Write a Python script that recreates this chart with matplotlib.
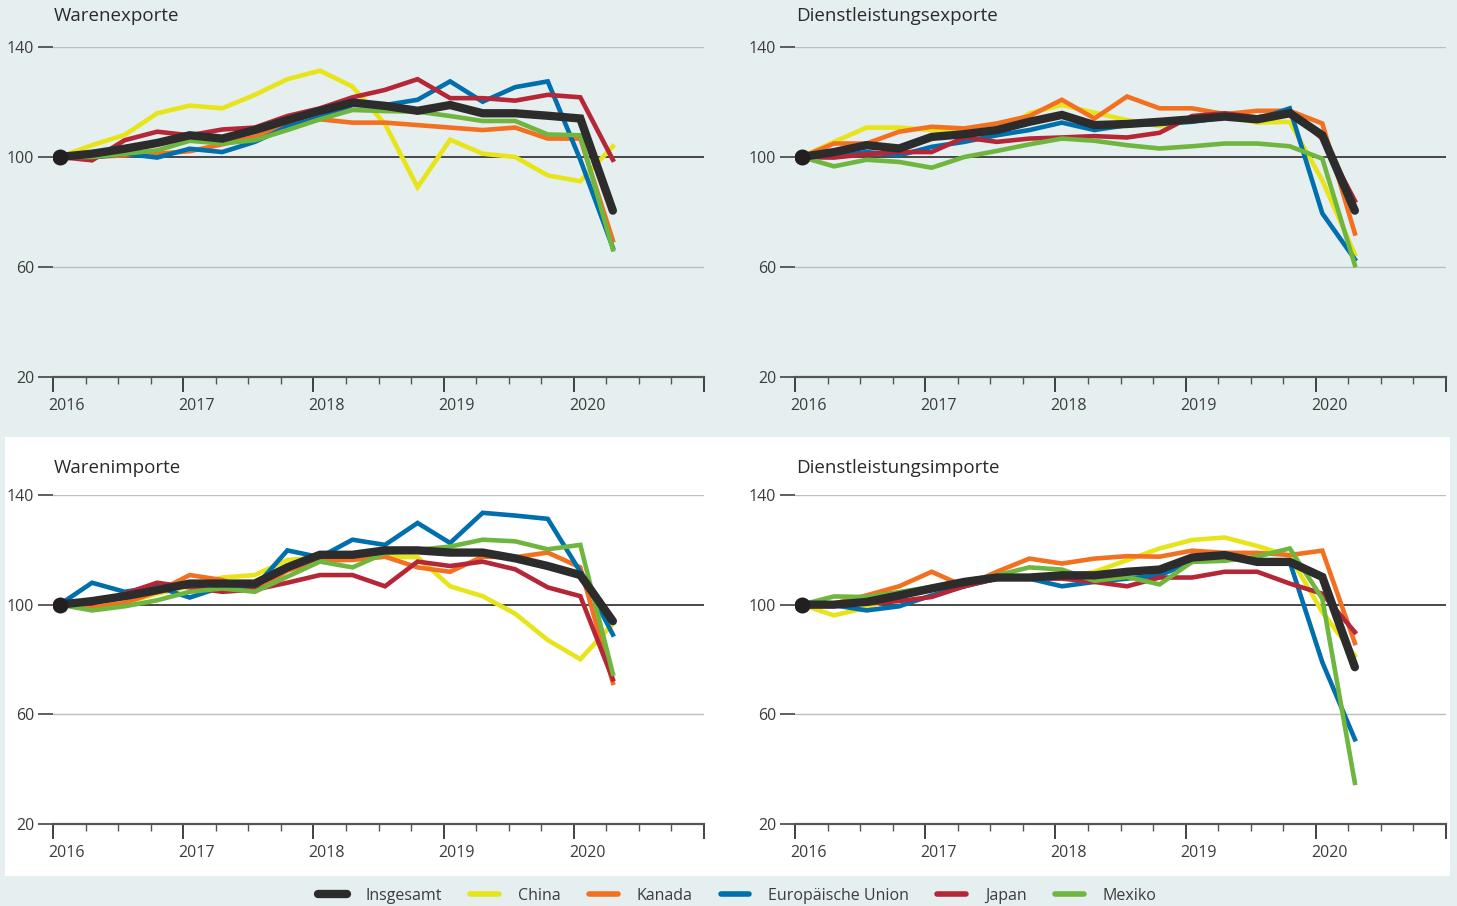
import matplotlib
matplotlib.use("Agg")
import matplotlib.pyplot as plt
from matplotlib.lines import Line2D
from matplotlib.patches import Rectangle
import matplotlib.transforms as mtransforms
import numpy as np

# ---------------- data (index, 2016 Q1 = 100) ----------------
quarters = ["2016Q1", "2016Q2", "2016Q3", "2016Q4", "2017Q1", "2017Q2", "2017Q3", "2017Q4",
            "2018Q1", "2018Q2", "2018Q3", "2018Q4", "2019Q1", "2019Q2", "2019Q3", "2019Q4",
            "2020Q1", "2020Q2"]
year_ticks = [2016, 2017, 2018, 2019, 2020, 2021]
year_labels = ["2016", "2017", "2018", "2019", "2020", ""]
y_ticks = [20, 60, 100, 140]

series_names = ["China", "Kanada", "Europäische Union", "Japan", "Mexiko", "Insgesamt"]
series_colors = ["#e8e41a", "#f37021", "#006fad", "#b52637", "#6fb63f", "#2d2c2c"]

# Warenexporte
wex_china = [100, 104.3, 108, 115.9, 118.7, 117.7, 122.6, 128.3, 131.4, 125.6, 112, 89, 106.3, 101.2, 100, 93.3, 91.2, 103.9]
wex_kanada = [100, 100, 100.6, 101.2, 102.1, 104.6, 107.3, 111.2, 113.7, 112.5, 112.5, 111.6, 110.7, 109.8, 110.7, 106.7, 106.7, 69.7]
wex_eu = [100, 99.8, 101.2, 99.8, 103, 101.8, 105.5, 111, 114.4, 118.9, 118.9, 120.8, 127.5, 120.1, 125.4, 127.5, 99, 67]
wex_japan = [100, 98.8, 106.1, 109.2, 107.9, 110, 110.7, 114.9, 117.7, 121.7, 124.4, 128.3, 121.4, 121.4, 120.5, 122.6, 121.7, 99]
wex_mexiko = [100, 100, 101.2, 102.4, 105.9, 104.9, 106.1, 109.8, 113.7, 117.1, 116.7, 116.5, 114.9, 113.1, 113.1, 108.2, 107.9, 66.4]
wex_total = [100, 101.2, 103, 105.1, 107.9, 106.7, 109.8, 113.4, 116.8, 119.8, 118.6, 116.8, 118.9, 115.9, 115.9, 115, 114, 80.5]

# Dienstleistungsexporte
dex_china = [100, 105.5, 110.7, 110.7, 109.8, 109.8, 107.9, 115.9, 118.9, 116.1, 113.4, 111.2, 113.4, 114.9, 112.5, 112.8, 91.5, 64.6]
dex_kanada = [100, 104.9, 104.9, 109.2, 111, 110.4, 112.2, 114.9, 120.8, 114, 122, 117.7, 117.7, 115.6, 116.8, 116.8, 112.2, 72.2]
dex_eu = [100, 100, 101.8, 100.6, 103.7, 105.5, 107.9, 109.8, 112.5, 109.8, 111.6, 112, 112.8, 114.4, 113.7, 117.7, 79.5, 62.8]
dex_japan = [100, 99.8, 101, 101.8, 101.8, 107.1, 105.5, 106.7, 107.1, 107.6, 107.1, 108.8, 114.9, 115.9, 114.4, 116.5, 106.7, 84.1]
dex_mexiko = [100, 96.6, 99, 98.2, 96.1, 100, 102.2, 104.6, 106.7, 105.9, 104.3, 103.1, 103.9, 104.9, 104.9, 103.9, 99.4, 60.7]
dex_total = [100, 101.8, 104.3, 103.1, 107.3, 108.3, 109.8, 112.8, 115.3, 111.6, 112, 112.8, 113.7, 114.7, 113.7, 115.9, 107.9, 80.5]

# Warenimporte
wim_china = [100, 99.4, 100.6, 104, 106.7, 109.9, 110.8, 116.3, 117.3, 116.6, 117.5, 117.3, 106.7, 103.1, 96.7, 87.1, 80.1, 93]
wim_kanada = [100, 98.9, 100.6, 104.7, 110.8, 109, 105, 112.4, 116.1, 116.3, 117.5, 113.6, 112, 117.5, 117.3, 119, 113.6, 71.5]
wim_eu = [100, 108, 104.7, 106.5, 102.6, 106.5, 106.3, 119.8, 117.3, 123.7, 121.8, 129.8, 122.5, 133.5, 132.5, 131.3, 112, 89.1]
wim_japan = [100, 100.4, 104, 108, 106.3, 104.7, 105.5, 108, 110.8, 110.8, 106.7, 115.7, 114.1, 115.7, 112.9, 106.3, 103.1, 72.8]
wim_mexiko = [100, 97.9, 99.4, 101.6, 104.7, 105.9, 104.7, 110.2, 115.7, 113.6, 118.8, 120, 121.2, 123.7, 123.1, 120.2, 121.8, 74.8]
wim_total = [100, 101.3, 103.1, 105.3, 107.7, 107.7, 107.7, 113.6, 118.2, 118.2, 119.8, 119.8, 119, 119, 116.9, 114.1, 110.8, 94]

# Dienstleistungsimporte
dim_china = [100, 96.1, 98.9, 103.4, 106.7, 107.7, 109.5, 109.9, 109.9, 112, 116.2, 120.5, 123.6, 124.5, 121.4, 117.7, 97.3, 81.4]
dim_kanada = [100, 100.4, 103.4, 106.7, 112, 106.7, 112, 116.8, 115, 116.8, 117.7, 117.5, 119.7, 118.9, 118.9, 118.1, 119.7, 86]
dim_eu = [100, 99.8, 97.9, 99.4, 103.4, 106.7, 109.5, 109.5, 106.7, 108.3, 109.5, 110.7, 115.6, 117.2, 115.6, 115.6, 79, 50.9]
dim_japan = [100, 100, 100.4, 101.3, 102.8, 106.7, 109.5, 109.5, 109.5, 108.3, 106.7, 109.9, 109.9, 112, 112, 107.7, 104, 90]
dim_mexiko = [100, 103, 102.8, 104.6, 106.5, 108.7, 110.7, 113.6, 112.8, 108.7, 110.1, 107.4, 115.6, 116, 117.5, 120.5, 102.2, 35]
dim_total = [100, 100, 101, 103.4, 105.9, 108.3, 109.9, 109.9, 110.7, 110.7, 112, 112.8, 117.2, 118.1, 115.6, 115.6, 110.1, 77.2]

panels = [
    ("Warenexporte", [wex_china, wex_kanada, wex_eu, wex_japan, wex_mexiko, wex_total]),
    ("Dienstleistungsexporte", [dex_china, dex_kanada, dex_eu, dex_japan, dex_mexiko, dex_total]),
    ("Warenimporte", [wim_china, wim_kanada, wim_eu, wim_japan, wim_mexiko, wim_total]),
    ("Dienstleistungsimporte", [dim_china, dim_kanada, dim_eu, dim_japan, dim_mexiko, dim_total]),
]

# ---------------- styling ----------------
plt.rcParams['font.family'] = ['Open Sans', 'DejaVu Sans']
BG = "#e6eff0"
TXT = "#3c3c3c"

W, H = 1457, 906
fig = plt.figure(figsize=(W / 100, H / 100), dpi=100, facecolor=BG)

# white box behind the lower row
fig.patches.append(Rectangle((5 / W, 1 - 876 / H), (1450 - 5) / W, (876 - 437) / H,
                             transform=fig.transFigure, facecolor="white", edgecolor="none", zorder=-10))

# axes rects in pixels: (left, top, right, bottom) and title y (px)
rects = [(53, 47, 704, 377), (795, 47, 1446, 377), (53, 495, 704, 824), (795, 495, 1446, 824)]
title_y = [16, 16, 468, 468]

x_pos = np.array([2016.05 + 0.25 * i for i in range(len(quarters))])

for (title, data), (l, t, r, b), ty in zip(panels, rects, title_y):
    ax = fig.add_axes([l / W, 1 - b / H, (r - l) / W, (b - t) / H])
    ax.set_facecolor("none")
    ax.set_zorder(1)
    ax.set_xlim(2016, 2021)
    ax.set_ylim(20, 140)
    for sp in ["top", "right", "left"]:
        ax.spines[sp].set_visible(False)
    ax.spines["bottom"].set_color("#555555")
    ax.spines["bottom"].set_linewidth(1.6)

    # grid lines
    for yv in [60, 140]:
        ax.axhline(yv, color="#bdbdbd", lw=1.0, zorder=1)
    ax.axhline(100, color="#3a3a3a", lw=1.3, zorder=1)

    # series
    for name, col, vals in zip(series_names, series_colors, data):
        if name == "Insgesamt":
            ax.plot(x_pos, vals, color=col, lw=6.0, solid_joinstyle="miter", solid_capstyle="round", zorder=5)
            ax.plot(x_pos[:1], vals[:1], "o", color="#231f20", ms=10.5, zorder=6)
        else:
            ax.plot(x_pos, vals, color=col, lw=3.3, solid_joinstyle="miter", zorder=3)

    # y axis
    ax.set_yticks(y_ticks)
    ax.set_yticklabels([str(v) for v in y_ticks])
    ax.tick_params(axis="y", direction="out", length=10.5, width=1.1, color="#333333",
                   labelsize=11.5, labelcolor=TXT, pad=3)

    # x axis
    ax.set_xticks(year_ticks)
    ax.set_xticklabels(year_labels)
    ax.set_xticks([y + q for y in year_ticks[:-1] for q in (0.25, 0.5, 0.75)], minor=True)
    ax.tick_params(axis="x", which="major", direction="out", length=10.5, width=1.3, color="#333333",
                   labelsize=11.5, labelcolor=TXT, pad=4.5)
    ax.tick_params(axis="x", which="minor", direction="out", length=5, width=1.0, color="#555555")
    offset = mtransforms.ScaledTranslation(-5 / 100, 0, fig.dpi_scale_trans)
    for lab in ax.get_xticklabels():
        lab.set_horizontalalignment("left")
        lab.set_transform(lab.get_transform() + offset)

    fig.text((l + 1) / W, 1 - ty / H, title, fontsize=13.5, color="#2a2a2a",
             ha="left", va="center")

# legend
handles = []
for name, col in zip(["Insgesamt", "China", "Kanada", "Europäische Union", "Japan", "Mexiko"],
                     ["#2d2c2c", "#e8e41a", "#f37021", "#006fad", "#b52637", "#6fb63f"]):
    lw = 6.0 if name == "Insgesamt" else 4.0
    handles.append(Line2D([], [], color=col, lw=lw, solid_capstyle="round", label=name))
leg = fig.legend(handles=handles, loc="center", bbox_to_anchor=(0.506, 1 - 896 / H), ncol=6,
                 frameon=False, fontsize=11.5, handlelength=1.8, handletextpad=1.2,
                 columnspacing=1.75, labelcolor=TXT)

fig.savefig("out.png", dpi=100, facecolor=BG)
